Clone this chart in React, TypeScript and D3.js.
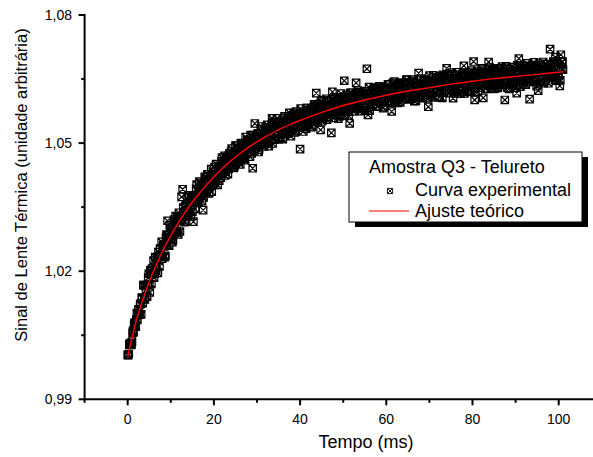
import React from "react";
import * as d3 from "d3";

// Tempo (ms) de cada ponto experimental (duas varreduras intercaladas)
const tempo = [
  0, 0.25, 0.5, 0.75, 1, 1.25, 1.5, 1.75, 2, 2.25, 2.5, 2.75, 3, 3.25, 3.5, 3.75, 4, 4.25, 4.5, 4.75,
  5, 5.25, 5.5, 5.75, 6, 6.25, 6.5, 6.75, 7, 7.25, 7.5, 7.75, 8, 8.25, 8.5, 8.75, 9, 9.25, 9.5, 9.75,
  10, 10.25, 10.5, 10.75, 11, 11.25, 11.5, 11.75, 12, 12.25, 12.5, 12.75, 13, 13.25, 13.5, 13.75, 14, 14.25, 14.5, 14.75,
  15, 15.25, 15.5, 15.75, 16, 16.25, 16.5, 16.75, 17, 17.25, 17.5, 17.75, 18, 18.25, 18.5, 18.75, 19, 19.25, 19.5, 19.75,
  20, 20.25, 20.5, 20.75, 21, 21.25, 21.5, 21.75, 22, 22.25, 22.5, 22.75, 23, 23.25, 23.5, 23.75, 24, 24.25, 24.5, 24.75,
  25, 25.25, 25.5, 25.75, 26, 26.25, 26.5, 26.75, 27, 27.25, 27.5, 27.75, 28, 28.25, 28.5, 28.75, 29, 29.25, 29.5, 29.75,
  30, 30.25, 30.5, 30.75, 31, 31.25, 31.5, 31.75, 32, 32.25, 32.5, 32.75, 33, 33.25, 33.5, 33.75, 34, 34.25, 34.5, 34.75,
  35, 35.25, 35.5, 35.75, 36, 36.25, 36.5, 36.75, 37, 37.25, 37.5, 37.75, 38, 38.25, 38.5, 38.75, 39, 39.25, 39.5, 39.75,
  40, 40.25, 40.5, 40.75, 41, 41.25, 41.5, 41.75, 42, 42.25, 42.5, 42.75, 43, 43.25, 43.5, 43.75, 44, 44.25, 44.5, 44.75,
  45, 45.25, 45.5, 45.75, 46, 46.25, 46.5, 46.75, 47, 47.25, 47.5, 47.75, 48, 48.25, 48.5, 48.75, 49, 49.25, 49.5, 49.75,
  50, 50.25, 50.5, 50.75, 51, 51.25, 51.5, 51.75, 52, 52.25, 52.5, 52.75, 53, 53.25, 53.5, 53.75, 54, 54.25, 54.5, 54.75,
  55, 55.25, 55.5, 55.75, 56, 56.25, 56.5, 56.75, 57, 57.25, 57.5, 57.75, 58, 58.25, 58.5, 58.75, 59, 59.25, 59.5, 59.75,
  60, 60.25, 60.5, 60.75, 61, 61.25, 61.5, 61.75, 62, 62.25, 62.5, 62.75, 63, 63.25, 63.5, 63.75, 64, 64.25, 64.5, 64.75,
  65, 65.25, 65.5, 65.75, 66, 66.25, 66.5, 66.75, 67, 67.25, 67.5, 67.75, 68, 68.25, 68.5, 68.75, 69, 69.25, 69.5, 69.75,
  70, 70.25, 70.5, 70.75, 71, 71.25, 71.5, 71.75, 72, 72.25, 72.5, 72.75, 73, 73.25, 73.5, 73.75, 74, 74.25, 74.5, 74.75,
  75, 75.25, 75.5, 75.75, 76, 76.25, 76.5, 76.75, 77, 77.25, 77.5, 77.75, 78, 78.25, 78.5, 78.75, 79, 79.25, 79.5, 79.75,
  80, 80.25, 80.5, 80.75, 81, 81.25, 81.5, 81.75, 82, 82.25, 82.5, 82.75, 83, 83.25, 83.5, 83.75, 84, 84.25, 84.5, 84.75,
  85, 85.25, 85.5, 85.75, 86, 86.25, 86.5, 86.75, 87, 87.25, 87.5, 87.75, 88, 88.25, 88.5, 88.75, 89, 89.25, 89.5, 89.75,
  90, 90.25, 90.5, 90.75, 91, 91.25, 91.5, 91.75, 92, 92.25, 92.5, 92.75, 93, 93.25, 93.5, 93.75, 94, 94.25, 94.5, 94.75,
  95, 95.25, 95.5, 95.75, 96, 96.25, 96.5, 96.75, 97, 97.25, 97.5, 97.75, 98, 98.25, 98.5, 98.75, 99, 99.25, 99.5, 99.75,
  100, 100.25, 100.5, 100.75, 101,
  0.125, 0.375, 0.625, 0.875, 1.125, 1.375, 1.625, 1.875, 2.125, 2.375, 2.625, 2.875, 3.125, 3.375, 3.625, 3.875, 4.125, 4.375, 4.625, 4.875,
  5.125, 5.375, 5.625, 5.875, 6.125, 6.375, 6.625, 6.875, 7.125, 7.375, 7.625, 7.875, 8.125, 8.375, 8.625, 8.875, 9.125, 9.375, 9.625, 9.875,
  10.125, 10.375, 10.625, 10.875, 11.125, 11.375, 11.625, 11.875, 12.125, 12.375, 12.625, 12.875, 13.125, 13.375, 13.625, 13.875, 14.125, 14.375, 14.625, 14.875,
  15.125, 15.375, 15.625, 15.875, 16.125, 16.375, 16.625, 16.875, 17.125, 17.375, 17.625, 17.875, 18.125, 18.375, 18.625, 18.875, 19.125, 19.375, 19.625, 19.875,
  20.125, 20.375, 20.625, 20.875, 21.125, 21.375, 21.625, 21.875, 22.125, 22.375, 22.625, 22.875, 23.125, 23.375, 23.625, 23.875, 24.125, 24.375, 24.625, 24.875,
  25.125, 25.375, 25.625, 25.875, 26.125, 26.375, 26.625, 26.875, 27.125, 27.375, 27.625, 27.875, 28.125, 28.375, 28.625, 28.875, 29.125, 29.375, 29.625, 29.875,
  30.125, 30.375, 30.625, 30.875, 31.125, 31.375, 31.625, 31.875, 32.125, 32.375, 32.625, 32.875, 33.125, 33.375, 33.625, 33.875, 34.125, 34.375, 34.625, 34.875,
  35.125, 35.375, 35.625, 35.875, 36.125, 36.375, 36.625, 36.875, 37.125, 37.375, 37.625, 37.875, 38.125, 38.375, 38.625, 38.875, 39.125, 39.375, 39.625, 39.875,
  40.125, 40.375, 40.625, 40.875, 41.125, 41.375, 41.625, 41.875, 42.125, 42.375, 42.625, 42.875, 43.125, 43.375, 43.625, 43.875, 44.125, 44.375, 44.625, 44.875,
  45.125, 45.375, 45.625, 45.875, 46.125, 46.375, 46.625, 46.875, 47.125, 47.375, 47.625, 47.875, 48.125, 48.375, 48.625, 48.875, 49.125, 49.375, 49.625, 49.875,
  50.125, 50.375, 50.625, 50.875, 51.125, 51.375, 51.625, 51.875, 52.125, 52.375, 52.625, 52.875, 53.125, 53.375, 53.625, 53.875, 54.125, 54.375, 54.625, 54.875,
  55.125, 55.375, 55.625, 55.875, 56.125, 56.375, 56.625, 56.875, 57.125, 57.375, 57.625, 57.875, 58.125, 58.375, 58.625, 58.875, 59.125, 59.375, 59.625, 59.875,
  60.125, 60.375, 60.625, 60.875, 61.125, 61.375, 61.625, 61.875, 62.125, 62.375, 62.625, 62.875, 63.125, 63.375, 63.625, 63.875, 64.125, 64.375, 64.625, 64.875,
  65.125, 65.375, 65.625, 65.875, 66.125, 66.375, 66.625, 66.875, 67.125, 67.375, 67.625, 67.875, 68.125, 68.375, 68.625, 68.875, 69.125, 69.375, 69.625, 69.875,
  70.125, 70.375, 70.625, 70.875, 71.125, 71.375, 71.625, 71.875, 72.125, 72.375, 72.625, 72.875, 73.125, 73.375, 73.625, 73.875, 74.125, 74.375, 74.625, 74.875,
  75.125, 75.375, 75.625, 75.875, 76.125, 76.375, 76.625, 76.875, 77.125, 77.375, 77.625, 77.875, 78.125, 78.375, 78.625, 78.875, 79.125, 79.375, 79.625, 79.875,
  80.125, 80.375, 80.625, 80.875, 81.125, 81.375, 81.625, 81.875, 82.125, 82.375, 82.625, 82.875, 83.125, 83.375, 83.625, 83.875, 84.125, 84.375, 84.625, 84.875,
  85.125, 85.375, 85.625, 85.875, 86.125, 86.375, 86.625, 86.875, 87.125, 87.375, 87.625, 87.875, 88.125, 88.375, 88.625, 88.875, 89.125, 89.375, 89.625, 89.875,
  90.125, 90.375, 90.625, 90.875, 91.125, 91.375, 91.625, 91.875, 92.125, 92.375, 92.625, 92.875, 93.125, 93.375, 93.625, 93.875, 94.125, 94.375, 94.625, 94.875,
  95.125, 95.375, 95.625, 95.875, 96.125, 96.375, 96.625, 96.875, 97.125, 97.375, 97.625, 97.875, 98.125, 98.375, 98.625, 98.875, 99.125, 99.375, 99.625, 99.875,
  100.125, 100.375, 100.625, 100.875,
];

// Sinal de lente térmica medido (unidade arbitrária)
const sinal = [
  1.0004, 1.0006, 1.0031, 1.0032, 1.0035, 1.0061, 1.0077, 1.0072, 1.0087, 1.0086, 1.0111, 1.0098, 1.0124, 1.0138, 1.0125, 1.0168, 1.0134, 1.0156, 1.014, 1.0185,
  1.017, 1.0202, 1.017, 1.0203, 1.0225, 1.0195, 1.021, 1.0231, 1.0196, 1.0236, 1.0253, 1.0234, 1.0229, 1.0261, 1.0258, 1.0236, 1.0286, 1.0318, 1.0279, 1.0308,
  1.0275, 1.0301, 1.0273, 1.0321, 1.0303, 1.0291, 1.0327, 1.0286, 1.0328, 1.0318, 1.0374, 1.0392, 1.0339, 1.0316, 1.0356, 1.0344, 1.0331, 1.0378, 1.0348, 1.0371,
  1.0339, 1.0316, 1.0373, 1.036, 1.0403, 1.0362, 1.0389, 1.0381, 1.0407, 1.0364, 1.0343, 1.0387, 1.0415, 1.0383, 1.0427, 1.0412, 1.0397, 1.0422, 1.0386, 1.0432,
  1.0424, 1.0406, 1.0451, 1.0423, 1.0444, 1.0412, 1.0443, 1.0458, 1.043, 1.0442, 1.047, 1.0433, 1.046, 1.0427, 1.0472, 1.0453, 1.048, 1.0449, 1.0469, 1.0445,
  1.0494, 1.046, 1.0483, 1.0456, 1.0477, 1.05, 1.0465, 1.0496, 1.0475, 1.046, 1.0495, 1.0508, 1.0488, 1.0479, 1.0519, 1.0476, 1.0441, 1.0512, 1.0546, 1.0512,
  1.0497, 1.0523, 1.0485, 1.0516, 1.0539, 1.0501, 1.0513, 1.0498, 1.0537, 1.0511, 1.0531, 1.0493, 1.0536, 1.0526, 1.0558, 1.055, 1.0508, 1.0534, 1.0526, 1.0549,
  1.0509, 1.0542, 1.055, 1.0527, 1.0509, 1.0558, 1.0541, 1.0525, 1.0553, 1.0523, 1.0571, 1.054, 1.0552, 1.0535, 1.0571, 1.0525, 1.0558, 1.0567, 1.0536, 1.0554,
  1.0486, 1.0541, 1.0561, 1.0527, 1.0571, 1.0556, 1.0582, 1.0543, 1.0572, 1.0555, 1.0581, 1.0539, 1.0568, 1.0591, 1.0556, 1.0617, 1.0583, 1.0564, 1.0592, 1.0531,
  1.0581, 1.0557, 1.0601, 1.0571, 1.0588, 1.0555, 1.0582, 1.0597, 1.0569, 1.0524, 1.062, 1.0582, 1.0568, 1.0607, 1.0566, 1.0592, 1.0597, 1.0563, 1.0616, 1.0581,
  1.0577, 1.0646, 1.0574, 1.0593, 1.0608, 1.0564, 1.0546, 1.0589, 1.0618, 1.0581, 1.0602, 1.0609, 1.0641, 1.0598, 1.0619, 1.059, 1.0581, 1.0617, 1.0599, 1.0612,
  1.0576, 1.0617, 1.0674, 1.0566, 1.0631, 1.0585, 1.0615, 1.06, 1.0625, 1.0592, 1.0605, 1.063, 1.0586, 1.0617, 1.0625, 1.0597, 1.0614, 1.0582, 1.063, 1.0604,
  1.0625, 1.0595, 1.0637, 1.0613, 1.0599, 1.0574, 1.0641, 1.0607, 1.0619, 1.0596, 1.0634, 1.0612, 1.063, 1.0595, 1.064, 1.0617, 1.0628, 1.0636, 1.0605, 1.0649,
  1.0612, 1.0628, 1.0603, 1.0642, 1.0612, 1.0646, 1.0598, 1.0632, 1.064, 1.0622, 1.0664, 1.061, 1.0628, 1.0639, 1.0605, 1.0644, 1.0621, 1.0649, 1.0617, 1.0585,
  1.0658, 1.0612, 1.064, 1.0626, 1.0647, 1.0607, 1.0652, 1.0635, 1.0623, 1.0657, 1.0619, 1.0641, 1.0606, 1.0648, 1.0653, 1.0634, 1.0675, 1.0661, 1.0629, 1.0648,
  1.0624, 1.0665, 1.0605, 1.0652, 1.0619, 1.0648, 1.066, 1.0625, 1.0644, 1.0616, 1.066, 1.0653, 1.0681, 1.0665, 1.0631, 1.062, 1.0658, 1.0645, 1.0626, 1.067,
  1.0652, 1.0691, 1.0601, 1.0638, 1.0663, 1.062, 1.0651, 1.0659, 1.0645, 1.0672, 1.0606, 1.0658, 1.0627, 1.0666, 1.0652, 1.069, 1.0677, 1.0635, 1.0657, 1.0646,
  1.067, 1.0628, 1.0663, 1.0651, 1.0675, 1.0637, 1.0661, 1.0668, 1.0633, 1.0657, 1.0601, 1.068, 1.0645, 1.0669, 1.0627, 1.0665, 1.066, 1.0639, 1.0677, 1.0652,
  1.063, 1.0617, 1.0659, 1.0698, 1.0682, 1.0651, 1.0676, 1.0637, 1.067, 1.0656, 1.0681, 1.0644, 1.0665, 1.0603, 1.068, 1.0669, 1.0649, 1.0689, 1.0643, 1.0662,
  1.0674, 1.0623, 1.0686, 1.0643, 1.0669, 1.068, 1.064, 1.0667, 1.0649, 1.0685, 1.0658, 1.0675, 1.072, 1.068, 1.0664, 1.0691, 1.0653, 1.0701, 1.0646, 1.0684,
  1.0657, 1.0634, 1.0707, 1.0689, 1.0672,
  1.0003, 1.0028, 1.003, 1.0027, 1.0056, 1.0057, 1.008, 1.007, 1.0102, 1.0097, 1.01, 1.0122, 1.0099, 1.0137, 1.0167, 1.0135, 1.0165, 1.0141, 1.0168, 1.0194,
  1.015, 1.0194, 1.0206, 1.0193, 1.0185, 1.0233, 1.0203, 1.0226, 1.0245, 1.0211, 1.0238, 1.0269, 1.0235, 1.0262, 1.0233, 1.0279, 1.0262, 1.0284, 1.026, 1.0301,
  1.0291, 1.0268, 1.0308, 1.0289, 1.0329, 1.0293, 1.032, 1.0337, 1.0293, 1.0327, 1.032, 1.0349, 1.0315, 1.0352, 1.0339, 1.037, 1.0338, 1.0361, 1.0328, 1.0376,
  1.0375, 1.0362, 1.0346, 1.0393, 1.0378, 1.0363, 1.041, 1.0377, 1.0402, 1.0391, 1.0373, 1.0421, 1.0406, 1.039, 1.0423, 1.0382, 1.0422, 1.0439, 1.041, 1.0402,
  1.0444, 1.0413, 1.0436, 1.0402, 1.0447, 1.0439, 1.0419, 1.0466, 1.0436, 1.0456, 1.0424, 1.0467, 1.0452, 1.0439, 1.0476, 1.0448, 1.0487, 1.0458, 1.0442, 1.0475,
  1.0452, 1.0494, 1.0464, 1.0487, 1.045, 1.0484, 1.0499, 1.0478, 1.0463, 1.0514, 1.0476, 1.0494, 1.0507, 1.0468, 1.0504, 1.0495, 1.0519, 1.0481, 1.0514, 1.0493,
  1.0522, 1.0479, 1.0511, 1.0531, 1.0497, 1.0521, 1.0492, 1.0529, 1.0511, 1.0543, 1.0501, 1.0531, 1.052, 1.0542, 1.0499, 1.0533, 1.054, 1.0518, 1.0558, 1.0511,
  1.0535, 1.055, 1.0512, 1.0546, 1.0529, 1.0563, 1.0522, 1.0541, 1.0563, 1.053, 1.0552, 1.0516, 1.0565, 1.0542, 1.0561, 1.0528, 1.0574, 1.0541, 1.0558, 1.0537,
  1.0581, 1.0548, 1.0538, 1.057, 1.0563, 1.0534, 1.0582, 1.0549, 1.0571, 1.0578, 1.0537, 1.0566, 1.0584, 1.0552, 1.0563, 1.0591, 1.0549, 1.0581, 1.0562, 1.0598,
  1.0551, 1.0586, 1.0581, 1.0559, 1.0604, 1.0574, 1.0561, 1.0597, 1.0568, 1.0584, 1.0604, 1.0559, 1.0595, 1.0578, 1.0601, 1.0557, 1.0594, 1.0607, 1.0574, 1.0589,
  1.0603, 1.0564, 1.06, 1.0612, 1.0582, 1.0574, 1.0618, 1.0589, 1.0606, 1.0574, 1.06, 1.0614, 1.0582, 1.0623, 1.0587, 1.0601, 1.0575, 1.0616, 1.0609, 1.0594,
  1.0583, 1.0622, 1.0599, 1.0614, 1.0576, 1.0618, 1.0606, 1.0589, 1.0629, 1.0598, 1.0624, 1.0586, 1.0614, 1.0633, 1.0597, 1.0605, 1.0629, 1.0584, 1.0621, 1.0625,
  1.0605, 1.0637, 1.0597, 1.0618, 1.063, 1.0594, 1.0625, 1.0644, 1.0603, 1.0618, 1.0594, 1.0638, 1.0609, 1.0631, 1.0602, 1.0642, 1.0616, 1.0606, 1.0648, 1.0611,
  1.063, 1.0603, 1.0642, 1.0618, 1.0649, 1.061, 1.0628, 1.0599, 1.0641, 1.0636, 1.0607, 1.0634, 1.0651, 1.0618, 1.0626, 1.0649, 1.0613, 1.0643, 1.0605, 1.0647,
  1.0626, 1.0643, 1.0609, 1.0659, 1.0624, 1.0648, 1.0618, 1.0639, 1.0654, 1.0608, 1.0643, 1.0634, 1.066, 1.0618, 1.065, 1.0624, 1.064, 1.0657, 1.0617, 1.0644,
  1.0661, 1.0628, 1.064, 1.0621, 1.0653, 1.0666, 1.0616, 1.0649, 1.0639, 1.0659, 1.0628, 1.0663, 1.0616, 1.0647, 1.0655, 1.0636, 1.0662, 1.0622, 1.066, 1.0643,
  1.0633, 1.0665, 1.062, 1.0653, 1.0669, 1.0642, 1.0659, 1.063, 1.0675, 1.0638, 1.0651, 1.0664, 1.0628, 1.0659, 1.0635, 1.0674, 1.0643, 1.0651, 1.0671, 1.0627,
  1.0661, 1.0649, 1.0668, 1.0629, 1.0657, 1.0674, 1.0641, 1.0679, 1.0646, 1.0637, 1.0667, 1.0656, 1.0629, 1.0673, 1.0662, 1.0641, 1.0678, 1.065, 1.0636, 1.0667,
  1.0654, 1.0682, 1.0642, 1.0666, 1.0632, 1.0672, 1.0662, 1.0647, 1.0677, 1.0637, 1.0687, 1.0652, 1.0672, 1.0643, 1.0666, 1.0683, 1.0647, 1.066, 1.0678, 1.0633,
  1.0675, 1.0653, 1.0683, 1.0648, 1.0665, 1.069, 1.0643, 1.0673, 1.0659, 1.068, 1.064, 1.0672, 1.0683, 1.0653, 1.0662, 1.0687, 1.0648, 1.0671, 1.0691, 1.0656,
  1.0678, 1.0647, 1.0673, 1.0691,
];

// Curva do ajuste teórico
const ajusteTempo = [
  0, 0.5, 1, 1.5, 2, 2.5, 3, 3.5, 4, 4.5, 5, 5.5, 6, 7, 8, 9, 10, 11, 12, 13, 14, 15, 16, 17, 18, 19, 20,
  22, 24, 26, 28, 30, 32, 34, 36, 38, 40, 45, 50, 55, 60, 65, 70, 75, 80, 85, 90, 95, 100, 101,
];
const ajusteSinal = [
  1.0, 1.0023, 1.0045, 1.0066, 1.0085, 1.0102, 1.0118, 1.0134, 1.0148, 1.0162, 1.0175, 1.0188, 1.02, 1.0223,
  1.0245, 1.0265, 1.0283, 1.0301, 1.0318, 1.0333, 1.0348, 1.0362, 1.0375, 1.0387, 1.0399, 1.041, 1.0421,
  1.0441, 1.0459, 1.0475, 1.049, 1.0503, 1.0515, 1.0526, 1.0536, 1.0545, 1.0553, 1.0572, 1.0588, 1.0601,
  1.0612, 1.0622, 1.063, 1.0638, 1.0645, 1.0651, 1.0656, 1.0661, 1.0666, 1.0667,
];

const xMajor = [0, 20, 40, 60, 80, 100];
const xMinor = [-10, 10, 30, 50, 70, 90, 110];
const yMajor = [0.99, 1.02, 1.05, 1.08];
const yMinor = [1.005, 1.035, 1.065];

const W = 593;
const H = 457;
const FONT = "'Liberation Sans', Arial, sans-serif";

const x = d3.scaleLinear().domain([-10, 110]).range([84.6, 601.8]);
const y = d3.scaleLinear().domain([0.99, 1.08]).range([399.3, 15]);
const axisX = x(-10);
const axisY = y(0.99);

const fmt = (v: number) => d3.format(".2f")(v).replace(".", ",");

// quadrado com X (símbolo dos pontos experimentais)
const marker = (s: number) =>
  `M${-s},${-s}H${s}V${s}H${-s}Z M${-s},${-s}L${s},${s} M${s},${-s}L${-s},${s}`;

export default function App() {
  const pontos = tempo.map((t, i) => [t, sinal[i]] as [number, number]);
  const ajuste = ajusteTempo.map((t, i) => [t, ajusteSinal[i]] as [number, number]);
  const linha = d3
    .line<[number, number]>()
    .x((d) => x(d[0]))
    .y((d) => y(d[1]))
    .curve(d3.curveMonotoneX);

  return (
    <svg
      width={W}
      height={H}
      style={{ position: "absolute", left: 0, top: 0, background: "#fff" }}
      fontFamily={FONT}
    >
      <rect width={W} height={H} fill="#fff" />

      {/* pontos experimentais */}
      <g fill="none" stroke="#000" strokeWidth={1.2}>
        {pontos.map((d, i) => (
          <path key={i} d={marker(3.7)} transform={`translate(${x(d[0])},${y(d[1])})`} />
        ))}
      </g>

      {/* ajuste teórico */}
      <path d={linha(ajuste) ?? ""} fill="none" stroke="#ff0000" strokeWidth={1.4} />

      {/* eixos */}
      <g stroke="#000" strokeWidth={2}>
        <line x1={axisX} x2={axisX} y1={y(1.08) - 1} y2={axisY + 1} />
        <line x1={axisX - 1} x2={W} y1={axisY} y2={axisY} />
        {yMajor.map((v) => (
          <line key={v} x1={axisX - 6} x2={axisX} y1={y(v)} y2={y(v)} />
        ))}
        {yMinor.map((v) => (
          <line key={v} x1={axisX - 3.5} x2={axisX} y1={y(v)} y2={y(v)} />
        ))}
        {xMajor.map((v) => (
          <line key={v} x1={x(v)} x2={x(v)} y1={axisY} y2={axisY + 6} />
        ))}
        {xMinor.map((v) => (
          <line key={v} x1={x(v)} x2={x(v)} y1={axisY} y2={axisY + 3.5} />
        ))}
      </g>

      <g fontSize={14} fill="#000">
        {yMajor.map((v) => (
          <text key={v} x={72} y={y(v) + 5} textAnchor="end">
            {fmt(v)}
          </text>
        ))}
        {xMajor.map((v) => (
          <text key={v} x={x(v)} y={424} textAnchor="middle">
            {v}
          </text>
        ))}
      </g>

      <text x={366} y={448} fontSize={18} textAnchor="middle">
        Tempo (ms)
      </text>
      <text transform={`translate(26.5,185) rotate(-90)`} fontSize={16.5} textAnchor="middle">
        Sinal de Lente Térmica (unidade arbitrária)
      </text>

      {/* legenda */}
      <g>
        <rect x={355} y={157} width={233} height={70} fill="#000" />
        <rect x={349} y={152} width={233} height={70} fill="#fff" stroke="#000" strokeWidth={1} />
        <text x={369} y={173} fontSize={18}>
          Amostra Q3 - Telureto
        </text>
        <path
          d={marker(2.6)}
          transform="translate(390,191)"
          fill="none"
          stroke="#000"
          strokeWidth={0.9}
        />
        <text x={415} y={195.5} fontSize={18}>
          Curva experimental
        </text>
        <line x1={369} x2={409} y1={211} y2={211} stroke="#ff0000" strokeWidth={1.2} />
        <text x={415} y={216.5} fontSize={18}>
          Ajuste teórico
        </text>
      </g>
    </svg>
  );
}
